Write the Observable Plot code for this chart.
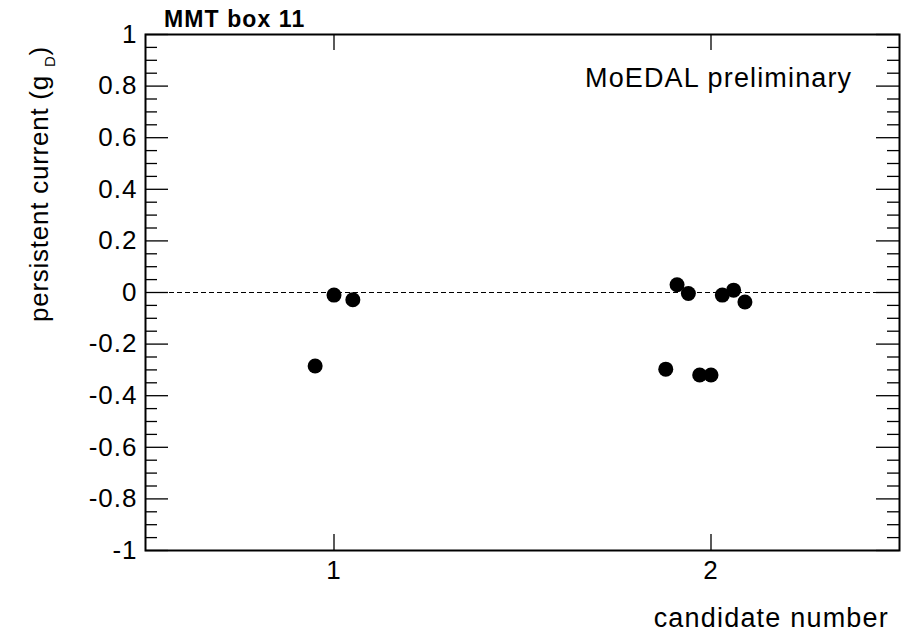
<!DOCTYPE html>
<html><head><meta charset="utf-8">
<script src="https://cdn.jsdelivr.net/npm/d3@7"></script>
<script src="https://cdn.jsdelivr.net/npm/@observablehq/plot@0.6"></script>
<style>html,body{margin:0;padding:0;background:#fff;overflow:hidden}</style>
</head><body><div id="chart"></div>
<script>
// ---- data ----
const chartTitle = "MMT box 11";
const xLabel = "candidate number";
const yLabelMain = "persistent current (g ";
const yLabelSub = "D";
const yLabelEnd = ")";
const annotation = "MoEDAL preliminary";
const candidateTicks = [1, 2];
const yMajorTicks = [-1, -0.8, -0.6, -0.4, -0.2, 0, 0.2, 0.4, 0.6, 0.8, 1];
const candidatePositions = [0.95, 1.0, 1.05, 1.88, 1.91, 1.94, 1.97, 2.0, 2.03, 2.06, 2.09];
const persistentCurrents = [-0.285, -0.01, -0.028, -0.297, 0.030, -0.004, -0.320, -0.320, -0.010, 0.009, -0.037];

const points = candidatePositions.map((x, i) => ({x, y: persistentCurrents[i]}));
const yMinorTicks = d3.ticks(-1, 1, 40).filter(v => !yMajorTicks.some(m => Math.abs(m - v) < 1e-9));

const W = 904, H = 638;
const mL = 145, mR = 5, mT = 34, mB = 88;
const innerW = W - mL - mR, innerH = H - mT - mB;
const fmt = d => String(Math.round(d * 10) / 10);

const plot = Plot.plot({
  width: W, height: H,
  marginLeft: mL, marginRight: mR, marginTop: mT, marginBottom: mB,
  style: {fontFamily: '"Liberation Sans", Arial, sans-serif', fontSize: "26px", color: "black", background: "white"},
  x: {domain: [0.5, 2.5]},
  y: {domain: [-1, 1]},
  marks: [
    Plot.ruleY([0], {stroke: "black", strokeWidth: 1, strokeDasharray: "5,3"}),
    // y major ticks (left & right, inward)
    Plot.tickY(yMajorTicks, {y: d => d, stroke: "black", strokeWidth: 1.3, insetRight: innerW - 23}),
    Plot.tickY(yMajorTicks, {y: d => d, stroke: "black", strokeWidth: 1.3, insetLeft: innerW - 23}),
    // y minor ticks
    Plot.tickY(yMinorTicks, {y: d => d, stroke: "black", strokeWidth: 1.3, insetRight: innerW - 12}),
    Plot.tickY(yMinorTicks, {y: d => d, stroke: "black", strokeWidth: 1.3, insetLeft: innerW - 12}),
    // x ticks (bottom & top, inward)
    Plot.tickX(candidateTicks, {x: d => d, stroke: "black", strokeWidth: 1.3, insetTop: innerH - 16}),
    Plot.tickX(candidateTicks, {x: d => d, stroke: "black", strokeWidth: 1.3, insetBottom: innerH - 16}),
    Plot.axisY({anchor: "left", ticks: yMajorTicks, tickSize: 0, tickPadding: 8, tickFormat: fmt, label: null}),
    Plot.axisX({anchor: "bottom", ticks: candidateTicks, tickSize: 0, tickPadding: 10, tickFormat: d => String(d), label: null}),
    Plot.dot(points, {x: "x", y: "y", r: 7.5, fill: "black", stroke: "none"}),
    Plot.frame({stroke: "black", strokeWidth: 2})
  ]
});

const svg = d3.select(plot);
svg.selectAll("text").style("letter-spacing", "1px");

// title above frame
svg.append("text")
  .attr("x", 164).attr("y", 27)
  .attr("text-anchor", "start")
  .attr("font-weight", "bold").attr("font-size", 23)
  .style("letter-spacing", "1.1px").attr("fill", "black")
  .text(chartTitle);

// annotation inside frame
svg.append("text")
  .attr("x", 585).attr("y", 87)
  .attr("text-anchor", "start")
  .attr("font-size", 27).style("letter-spacing", "1.15px").attr("fill", "black")
  .text(annotation);

// x label
svg.append("text")
  .attr("x", 889).attr("y", 627)
  .attr("text-anchor", "end")
  .attr("font-size", 27).style("letter-spacing", "1.2px").attr("fill", "black")
  .text(xLabel);

// y label rotated with subscript
const yl = svg.append("text")
  .attr("transform", "translate(48,322) rotate(-90)")
  .attr("text-anchor", "start")
  .attr("font-size", 26).style("letter-spacing", "0.75px").attr("fill", "black");
yl.append("tspan").text(yLabelMain);
yl.append("tspan").attr("font-size", 15).attr("dy", 7).text(yLabelSub);
yl.append("tspan").attr("dy", -7).text(yLabelEnd);

document.getElementById("chart").appendChild(plot);
</script>
</body></html>
